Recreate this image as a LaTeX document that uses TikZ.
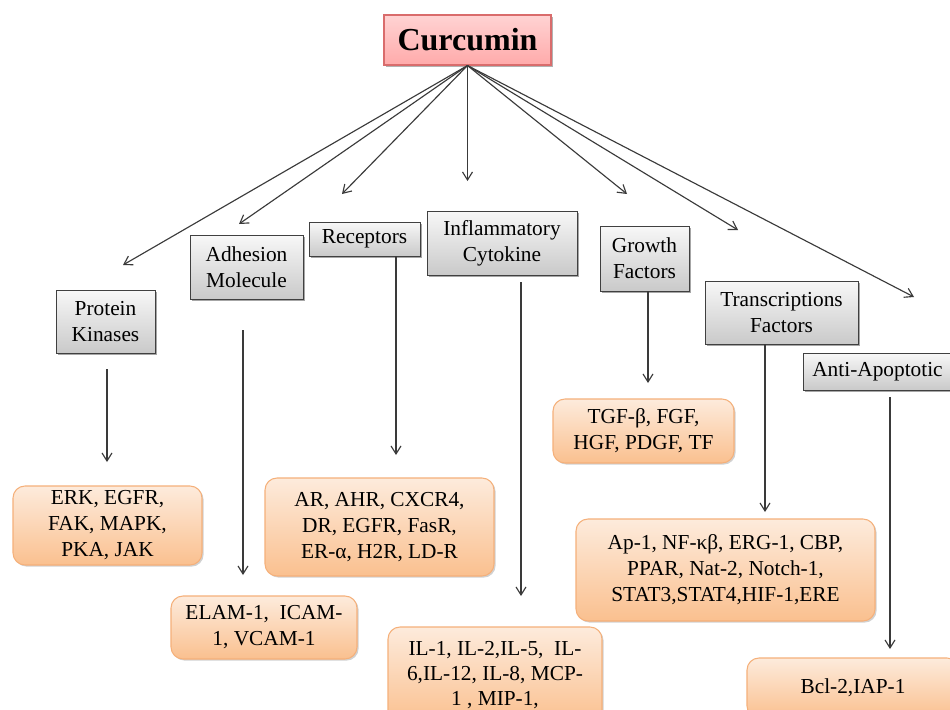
\documentclass[tikz,border=0pt]{standalone}
\usepackage{fontspec}
\setmainfont{Liberation Serif}
\usetikzlibrary{arrows.meta,shadows}
\definecolor{orngborder}{HTML}{F5B07A}
\definecolor{orngtop}{HTML}{FDEBDC}
\definecolor{orngbot}{HTML}{FAC08F}
\definecolor{pinktop}{HTML}{FFD3D3}
\definecolor{pinkbot}{HTML}{FFAAAA}
\definecolor{pinkborder}{HTML}{D96C6C}
\definecolor{linegray}{HTML}{3A3A3A}
\begin{document}
\begin{tikzpicture}[x=0.75pt,y=-0.75pt,
  txt/.style={align=center, font=\fontsize{16}{19.5}\selectfont, inner sep=0pt},
  graybox/.style={txt, draw=black!75, line width=0.7pt, top color=gray!6, bottom color=gray!42,
    drop shadow={shadow xshift=1.5pt, shadow yshift=-1.5pt, fill=black, opacity=0.35}},
  orngbox/.style={txt, draw=orngborder, line width=0.8pt, rounded corners=9pt, top color=orngtop, bottom color=orngbot,
    drop shadow={shadow xshift=1.2pt, shadow yshift=-1.2pt, fill=black, opacity=0.18}},
  topbox/.style={align=center, font=\fontsize{24}{28}\selectfont\bfseries, inner sep=0pt, draw=pinkborder, line width=0.8pt,
    top color=pinktop, bottom color=pinkbot,
    drop shadow={shadow xshift=1.5pt, shadow yshift=-1.5pt, fill=black, opacity=0.3}},
  arr/.style={draw=linegray, line width=0.85pt, -{Straight Barb[length=6pt,width=7.5pt]}}]
\path[use as bounding box, clip] (0,0) rectangle (950,710);
\fill[white] (0,0) rectangle (950,710);

% top node
\node[topbox, minimum width=125.25pt, minimum height=37.5pt] (cur) at (467.5,40) {Curcumin};

% category boxes
\node[graybox, minimum width=74.25pt, minimum height=47.25pt] (pk) at (105.5,321.5) {Protein\\Kinases};
\node[graybox, minimum width=84.75pt, minimum height=48pt] (am) at (246.5,267) {Adhesion\\Molecule};
\node[graybox, minimum width=83.25pt, minimum height=25.5pt] (rec) at (364.5,239) {Receptors};
\node[graybox, minimum width=112.5pt, minimum height=48pt] (ic) at (502,243) {Inflammatory\\Cytokine};
\node[graybox, minimum width=66.75pt, minimum height=48.75pt] (gf) at (644.5,258.5) {Growth\\Factors};
\node[graybox, minimum width=114.75pt, minimum height=47.25pt] (tf) at (781.5,312.5) {Transcriptions\\Factors};
\node[graybox, minimum width=111.75pt, minimum height=27.75pt] (aa) at (877.5,371.5) {Anti-Apoptotic};

% member boxes
\node[orngbox, minimum width=141.75pt, minimum height=59.25pt] (erk) at (107.5,525.5) {ERK, EGFR,\\FAK, MAPK,\\PKA, JAK};
\node[orngbox, minimum width=171.75pt, minimum height=73.5pt] (reco) at (379.5,527) {AR, AHR, CXCR4,\\DR, EGFR, FasR,\\ER-α, H2R, LD-R};
\node[orngbox, minimum width=139.5pt, minimum height=47.25pt] (elam) at (264,627.5) {ELAM-1,\ \ ICAM-\\1, VCAM-1};
\node[orngbox, minimum width=160.5pt, minimum height=72pt, font=\fontsize{16}{18.5}\selectfont] (il) at (495,675) {IL-1, IL-2,IL-5,\ \ IL-\\6,IL-12, IL-8, MCP-\\1 , MIP-1,};
\node[orngbox, minimum width=135.75pt, minimum height=48pt] (tgf) at (643.5,431) {TGF-β, FGF,\\HGF, PDGF, TF};
\node[orngbox, minimum width=224.25pt, minimum height=76.5pt] (ap) at (725.5,570) {Ap-1, NF-κβ, ERG-1, CBP,\\PPAR, Nat-2, Notch-1,\\STAT3,STAT4,HIF-1,ERE};
\node[orngbox, minimum width=159pt, minimum height=45pt] (bcl) at (853,688) {Bcl-2,IAP-1};

% free ends of the arrows from Curcumin
\coordinate (e1) at (123,265);
\coordinate (e2) at (239,224);
\coordinate (e3) at (342,194);
\coordinate (e4) at (467.5,181);
\coordinate (e5) at (627,194);
\coordinate (e6) at (738,230);
\coordinate (e7) at (914,297);
\foreach \e in {e1,e2,e3,e4,e5,e6,e7} \draw[arr] (cur.south) -- (\e);

% free ends of the vertical arrows
\coordinate (pkT) at (107,462);
\coordinate (amT) at (243,575);
\coordinate (recT) at (396,455);
\coordinate (icT) at (521,596);
\coordinate (gfT) at (648,383);
\coordinate (tfT) at (765,512);
\coordinate (aaT) at (890,649);

\draw[arr, shorten <=12pt] (pk.south -| pkT) -- (pkT);
\draw[arr, shorten <=23.25pt] (am.south -| amT) -- (amT);
\draw[arr] (rec.south -| recT) -- (recT);
\draw[arr, shorten <=5.25pt] (ic.south -| icT) -- (icT);
\draw[arr] (gf.south -| gfT) -- (gfT);
\draw[arr] (tf.south -| tfT) -- (tfT);
\draw[arr, shorten <=5.25pt] (aa.south -| aaT) -- (aaT);
\end{tikzpicture}
\end{document}
